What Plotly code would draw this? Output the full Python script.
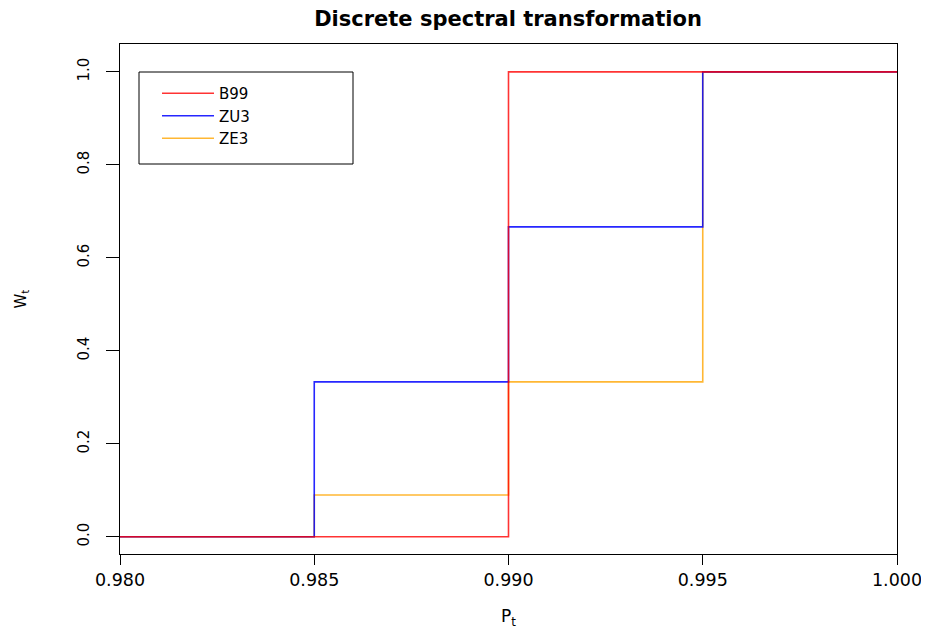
import plotly.graph_objects as go

# Data
p_t = [0.980, 0.985, 0.990, 0.995, 1.000]
series_names = ["B99", "ZU3", "ZE3"]
b99 = [0.0, 0.0, 1.0, 1.0, 1.0]
zu3 = [0.0, 0.3333, 0.6667, 1.0, 1.0]
ze3 = [0.0, 0.09, 0.3333, 1.0, 1.0]
x_ticks = [0.980, 0.985, 0.990, 0.995, 1.000]
x_tick_labels = ["0.980", "0.985", "0.990", "0.995", "1.000"]
y_ticks = [0.0, 0.2, 0.4, 0.6, 0.8, 1.0]
y_tick_labels = ["0.0", "0.2", "0.4", "0.6", "0.8", "1.0"]

colors = ["rgba(255,0,0,0.8)", "rgba(0,0,255,0.85)", "rgba(255,165,0,0.8)"]
values = [b99, zu3, ze3]

fig = go.Figure()
# ZE3 drawn first, B99 last (on top)
for i in [2, 1, 0]:
    fig.add_trace(go.Scatter(
        x=p_t, y=values[i], mode="lines", name=series_names[i],
        line=dict(color=colors[i], width=1.6, shape="hv"),
        legendrank=i + 1,
    ))

FONT = "DejaVu Sans, Liberation Sans, Arial, sans-serif"
# page body adds 8px margin on each side; figure sized so the page fits the window exactly
W, H = 913, 621
fig.update_layout(
    width=W, height=H,
    margin=dict(l=112, r=24, t=36, b=75, autoexpand=False),
    paper_bgcolor="white", plot_bgcolor="white",
    font=dict(family=FONT, size=17, color="black"),
    title=dict(text="<b>Discrete spectral transformation</b>", x=500 / W, xanchor="center",
               y=1 - 10.5 / H, yanchor="middle", font=dict(size=21, family=FONT)),
    showlegend=True,
    legend=dict(x=(157 - 120) / 777, y=1 - (77 - 44) / 510, xanchor="left", yanchor="top",
                bgcolor="rgba(0,0,0,0)", borderwidth=0,
                font=dict(size=15, family=FONT), itemwidth=52,
                tracegroupgap=0, traceorder="normal"),
    xaxis=dict(range=[0.980, 1.000], tickvals=x_ticks, ticktext=x_tick_labels,
               showgrid=False, zeroline=False, showline=True, linecolor="black",
               linewidth=1, mirror=True, ticks="outside", ticklen=10,
               tickcolor="black", tickfont=dict(size=17.5), automargin=False,
               ticklabeloverflow="allow",
               title=dict(text="P<sub>t</sub>", standoff=24, font=dict(size=17))),
    yaxis=dict(range=[-0.037, 1.06], tickvals=y_ticks, ticktext=y_tick_labels,
               tickangle=-90, showgrid=False, zeroline=False, showline=True,
               linecolor="black", linewidth=1, mirror=True, ticks="outside",
               ticklen=13, tickcolor="black", tickfont=dict(size=15),
               ticklabelstandoff=11, automargin=False, ticklabeloverflow="allow",
               title=dict(text="W<sub>t</sub>", standoff=44, font=dict(size=15))),
    shapes=[dict(type="rect", xref="paper", yref="paper",
                 x0=(139 - 120) / 777, x1=(353 - 120) / 777,
                 y0=(554 - 164) / 510, y1=(554 - 72) / 510,
                 line=dict(color="black", width=1), fillcolor="rgba(0,0,0,0)")],
)

fig.write_html("out.html")
